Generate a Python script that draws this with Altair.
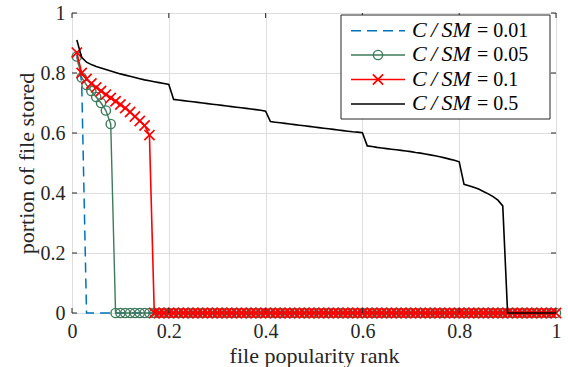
import altair as alt
import pandas as pd

# ---------------- data ----------------
rank = [round(i * 0.01, 2) for i in range(1, 101)]

series_labels = ["0.01", "0.05", "0.1", "0.5"]

v_001 = [0.86, 0.77] + [0.0] * 98
v_005 = [0.855, 0.785, 0.76, 0.74, 0.72, 0.70, 0.675, 0.63] + [0.0] * 92
v_01 = [0.868, 0.80, 0.78, 0.765, 0.752, 0.74, 0.728, 0.717, 0.706, 0.695,
        0.683, 0.67, 0.655, 0.64, 0.625, 0.593] + [0.0] * 84
v_05 = ([0.910, 0.852, 0.836, 0.828, 0.822, 0.817, 0.812, 0.807, 0.802, 0.797,
         0.793, 0.789, 0.785, 0.781, 0.777, 0.774, 0.771, 0.768, 0.765, 0.762]
        + [0.712, 0.710, 0.708, 0.706, 0.704, 0.702, 0.700, 0.698, 0.696, 0.694,
           0.692, 0.690, 0.688, 0.686, 0.684, 0.682, 0.680, 0.678, 0.676, 0.673]
        + [0.638, 0.636, 0.634, 0.632, 0.630, 0.628, 0.626, 0.624, 0.622, 0.620,
           0.618, 0.616, 0.614, 0.612, 0.610, 0.608, 0.606, 0.604, 0.603, 0.601]
        + [0.557, 0.555, 0.552, 0.550, 0.548, 0.546, 0.544, 0.542, 0.540, 0.538,
           0.535, 0.533, 0.530, 0.527, 0.524, 0.521, 0.517, 0.513, 0.509, 0.504]
        + [0.429, 0.424, 0.419, 0.413, 0.405, 0.397, 0.388, 0.376, 0.357]
        + [0.0] * 11)

tick_values = [0, 0.2, 0.4, 0.6, 0.8, 1]

# ---------------- styles ----------------
BLUE = "#0072BD"
GREEN = "#3f7a5c"
RED = "#FF0000"
BLACK = "#000000"
FRAME = "#262626"
FONT = "Liberation Serif"
X_SHAPE = "M-1,-1L1,1M-1,1L1,-1"
CIRCLE_SIZE = 85
X_SIZE = 105

W, H = 484, 300

df = pd.DataFrame({
    "rank": rank * 4,
    "value": v_001 + v_005 + v_01 + v_05,
    "series": sum([[s] * len(rank) for s in series_labels], []),
})

xs = alt.Scale(domain=[0, 1], nice=False, zero=False)
ys = alt.Scale(domain=[0, 1], nice=False, zero=False)
xaxis = alt.Axis(values=tick_values, format=".1~f", title="file popularity rank",
                 titleY=49, titleBaseline="alphabetic", labelBaseline="alphabetic",
                 labelPadding=24, labelFlush=False)
yaxis = alt.Axis(values=tick_values, format=".1~f", title="portion of file stored",
                 titleX=-39, titleY=150, titleAngle=270, titleBaseline="alphabetic",
                 titleAlign="center", labelPadding=7, labelFlush=False)

X = alt.X("rank:Q", scale=xs, axis=xaxis)
Y = alt.Y("value:Q", scale=ys, axis=yaxis)

base = alt.Chart(df)


def sub(label):
    return base.transform_filter(alt.datum.series == label)


blue_line = sub("0.01").mark_line(color=BLUE, strokeWidth=1.5, strokeDash=[10, 6]).encode(x=X, y=Y)
green_line = sub("0.05").mark_line(color=GREEN, strokeWidth=1.4).encode(x=X, y=Y)
green_pts = sub("0.05").mark_point(shape="circle", size=CIRCLE_SIZE, filled=False, stroke=GREEN,
                                   strokeWidth=1.4, opacity=1).encode(x=X, y=Y)
red_line = sub("0.1").mark_line(color=RED, strokeWidth=1.6).encode(x=X, y=Y)
red_pts = sub("0.1").mark_point(shape=X_SHAPE, size=X_SIZE, filled=False, stroke=RED,
                                strokeWidth=1.7, opacity=1).encode(x=X, y=Y)
black_line = sub("0.5").mark_line(color=BLACK, strokeWidth=1.6).encode(x=X, y=Y)

# inward ticks on all four sides
tdf = pd.DataFrame({"t": tick_values})
tick_base = alt.Chart(tdf).mark_rule(color=FRAME, strokeWidth=1)
TX = alt.X("t:Q", scale=xs, axis=xaxis)
TY = alt.Y("t:Q", scale=ys, axis=yaxis)
ticks = [
    tick_base.encode(x=TX, y=alt.value(H), y2=alt.value(H - 5)),
    tick_base.encode(x=TX, y=alt.value(0), y2=alt.value(5)),
    tick_base.encode(y=TY, x=alt.value(0), x2=alt.value(5)),
    tick_base.encode(y=TY, x=alt.value(W), x2=alt.value(W - 5)),
]

# legend (drawn manually, top right inside the plot)
one = pd.DataFrame({"k": [0]})
legend_layers = [
    alt.Chart(one).mark_rect(fill="white", stroke=FRAME, strokeWidth=1).encode(
        x=alt.value(269), x2=alt.value(478), y=alt.value(2), y2=alt.value(106))
]
row_y = [17.8, 42.0, 66.5, 91.0]
styles = [
    dict(color=BLUE, dash=[10, 6], shape=None),
    dict(color=GREEN, dash=None, shape="circle"),
    dict(color=RED, dash=None, shape=X_SHAPE),
    dict(color=BLACK, dash=None, shape=None),
]
for lab, ry, st in zip(series_labels, row_y, styles):
    rule_kw = dict(color=st["color"], strokeWidth=1.5)
    if st["dash"]:
        rule_kw["strokeDash"] = st["dash"]
    legend_layers.append(alt.Chart(one).mark_rule(**rule_kw).encode(
        x=alt.value(279), x2=alt.value(333), y=alt.value(ry)))
    if st["shape"] == "circle":
        legend_layers.append(alt.Chart(one).mark_point(
            shape="circle", size=CIRCLE_SIZE, filled=False, stroke=st["color"], strokeWidth=1.4, opacity=1
        ).encode(x=alt.value(306), y=alt.value(ry)))
    elif st["shape"]:
        legend_layers.append(alt.Chart(one).mark_point(
            shape=st["shape"], size=X_SIZE, filled=False, stroke=st["color"], strokeWidth=1.7, opacity=1
        ).encode(x=alt.value(306), y=alt.value(ry)))
    legend_layers.append(alt.Chart(one).mark_text(
        font=FONT, fontSize=22, fontStyle="italic", align="left", baseline="alphabetic", color="black"
    ).encode(x=alt.value(340), y=alt.value(ry + 6), text=alt.value("C\u2009/\u2009SM")))
    legend_layers.append(alt.Chart(one).mark_text(
        font=FONT, fontSize=20, align="left", baseline="alphabetic", color="black"
    ).encode(x=alt.value(405), y=alt.value(ry + 6), text=alt.value("= " + lab)))

chart = alt.layer(
    blue_line, green_line, green_pts, red_line, red_pts, black_line,
    *ticks, *legend_layers
).properties(
    width=W, height=H,
    padding={"left": 72, "top": 13, "right": 12, "bottom": 54},
    autosize=alt.AutoSizeParams(type="none"),
).configure_view(
    stroke=FRAME, strokeWidth=1
).configure_axis(
    grid=True, gridColor="#dedede", gridWidth=1,
    domain=False, ticks=False, tickSize=0,
    labelFont=FONT, labelFontSize=20, labelColor=FRAME,
    titleFont=FONT, titleFontSize=22, titleFontWeight="normal", titleColor=FRAME,
)

chart.save("out.html", embed_options={"renderer": "svg", "actions": False})
